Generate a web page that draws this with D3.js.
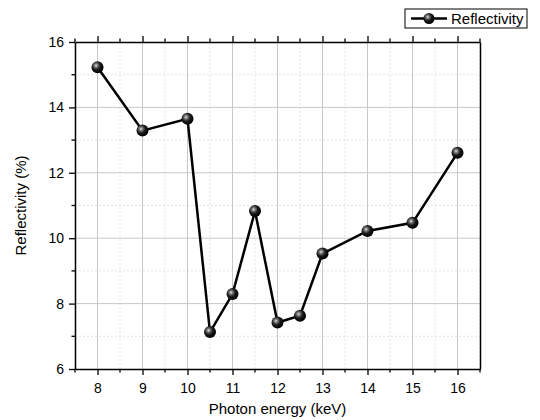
<!DOCTYPE html>
<html>
<head>
<meta charset="utf-8">
<script src="https://cdn.jsdelivr.net/npm/d3@7"></script>
<style>
body{margin:0;background:#fff;}
svg{font-family:Arial,"Liberation Sans",sans-serif;}
</style>
</head>
<body>
<div id="chart"></div>
<script>
// data
var energy = [8, 9, 10, 10.5, 11, 11.5, 12, 12.5, 13, 14, 15, 16];
var reflectivity = [15.23, 13.29, 13.65, 7.13, 8.29, 10.83, 7.42, 7.63, 9.53, 10.22, 10.47, 12.61];
var xTicks = [8, 9, 10, 11, 12, 13, 14, 15, 16];
var yTicks = [6, 8, 10, 12, 14, 16];
var seriesName = 'Reflectivity';

var W = 540, H = 420;
var m = {left: 75, right: 60, top: 42, bottom: 51};

var svg = d3.select('#chart').append('svg').attr('width', W).attr('height', H);

var x = d3.scaleLinear().domain([7.5, 16.5]).range([m.left, W - m.right]);
var y = d3.scaleLinear().domain([6, 16]).range([H - m.bottom, m.top]);

var defs = svg.append('defs');
var grad = defs.append('radialGradient').attr('id', 'ball')
  .attr('cx', '38%').attr('cy', '36%').attr('r', '62%');
grad.append('stop').attr('offset', '0%').attr('stop-color', '#eeeeee');
grad.append('stop').attr('offset', '18%').attr('stop-color', '#8a8a8a');
grad.append('stop').attr('offset', '55%').attr('stop-color', '#1c1c1c');
grad.append('stop').attr('offset', '100%').attr('stop-color', '#000');

var minorX = d3.range(7.5, 16.51, 0.5).filter(function(v){ return v % 1 !== 0; });
var minorY = [7, 9, 11, 13, 15];

// grid
var g = svg.append('g');
g.selectAll('.gxm').data(minorX).enter().append('line')
  .attr('x1', d => x(d)).attr('x2', d => x(d)).attr('y1', y(6)).attr('y2', y(16))
  .attr('stroke', '#dcdcdc').attr('stroke-width', 0.8).attr('stroke-dasharray', '2,2');
g.selectAll('.gym').data(minorY).enter().append('line')
  .attr('y1', d => y(d)).attr('y2', d => y(d)).attr('x1', x(7.5)).attr('x2', x(16.5))
  .attr('stroke', '#dcdcdc').attr('stroke-width', 0.8).attr('stroke-dasharray', '2,2');
g.selectAll('.gx').data(xTicks).enter().append('line')
  .attr('x1', d => x(d)).attr('x2', d => x(d)).attr('y1', y(6)).attr('y2', y(16))
  .attr('stroke', '#c8c8c8').attr('stroke-width', 1);
g.selectAll('.gy').data(yTicks.slice(1, -1)).enter().append('line')
  .attr('y1', d => y(d)).attr('y2', d => y(d)).attr('x1', x(7.5)).attr('x2', x(16.5))
  .attr('stroke', '#c8c8c8').attr('stroke-width', 1);

// axes
function styleAxis(sel){
  sel.select('.domain').attr('stroke', '#000').attr('stroke-width', 1.5);
  sel.selectAll('.tick line').attr('stroke', '#000').attr('stroke-width', 1.3);
  sel.selectAll('text').attr('font-size', 14).attr('fill', '#000');
  sel.attr('font-family', null);
}
var axBottom = svg.append('g').attr('transform', 'translate(0,' + y(6) + ')')
  .call(d3.axisBottom(x).tickValues(xTicks).tickSize(6).tickPadding(8).tickSizeOuter(0));
styleAxis(axBottom);
axBottom.append('g').selectAll('line').data(minorX).enter().append('line')
  .attr('x1', d => x(d)).attr('x2', d => x(d)).attr('y1', 0).attr('y2', 3.5)
  .attr('stroke', '#000').attr('stroke-width', 1.3);

var axLeft = svg.append('g').attr('transform', 'translate(' + x(7.5) + ',0)')
  .call(d3.axisLeft(y).tickValues(yTicks).tickSize(6).tickPadding(5).tickSizeOuter(0));
styleAxis(axLeft);
axLeft.append('g').selectAll('line').data(minorY).enter().append('line')
  .attr('y1', d => y(d)).attr('y2', d => y(d)).attr('x1', 0).attr('x2', -3.5)
  .attr('stroke', '#000').attr('stroke-width', 1.3);

var axTop = svg.append('g').attr('transform', 'translate(0,' + y(16) + ')')
  .call(d3.axisTop(x).tickValues(xTicks).tickSize(6).tickFormat('').tickSizeOuter(0));
styleAxis(axTop);
axTop.append('g').selectAll('line').data(minorX).enter().append('line')
  .attr('x1', d => x(d)).attr('x2', d => x(d)).attr('y1', 0).attr('y2', -3.5)
  .attr('stroke', '#000').attr('stroke-width', 1.3);

var axRight = svg.append('g').attr('transform', 'translate(' + x(16.5) + ',0)')
  .call(d3.axisRight(y).tickValues([]).tickSizeOuter(0));
styleAxis(axRight);

// series
var pts = energy.map(function(e, i){ return [e, reflectivity[i]]; });
svg.append('path').datum(pts)
  .attr('fill', 'none').attr('stroke', '#000').attr('stroke-width', 2.5)
  .attr('d', d3.line().x(d => x(d[0])).y(d => y(d[1])));
svg.selectAll('.pt').data(pts).enter().append('circle')
  .attr('cx', d => x(d[0])).attr('cy', d => y(d[1])).attr('r', 6)
  .attr('fill', 'url(#ball)');

// axis titles
svg.append('text').attr('x', (x(7.5) + x(16.5)) / 2).attr('y', 414)
  .attr('text-anchor', 'middle').attr('font-size', 15).text('Photon energy (keV)');
svg.append('text').attr('transform', 'translate(26,' + ((y(6) + y(16)) / 2) + ') rotate(-90)')
  .attr('text-anchor', 'middle').attr('font-size', 15).text('Reflectivity (%)');

// legend
var lg = svg.append('g').attr('transform', 'translate(405,9)');
lg.append('rect').attr('width', 122).attr('height', 19)
  .attr('fill', '#fff').attr('stroke', '#000').attr('stroke-width', 1);
lg.append('line').attr('x1', 6).attr('x2', 42).attr('y1', 9.5).attr('y2', 9.5)
  .attr('stroke', '#000').attr('stroke-width', 2.5);
lg.append('circle').attr('cx', 24).attr('cy', 9.5).attr('r', 5.5).attr('fill', 'url(#ball)');
lg.append('text').attr('x', 46).attr('y', 15).attr('font-size', 15).text(seriesName);
</script>
</body>
</html>
